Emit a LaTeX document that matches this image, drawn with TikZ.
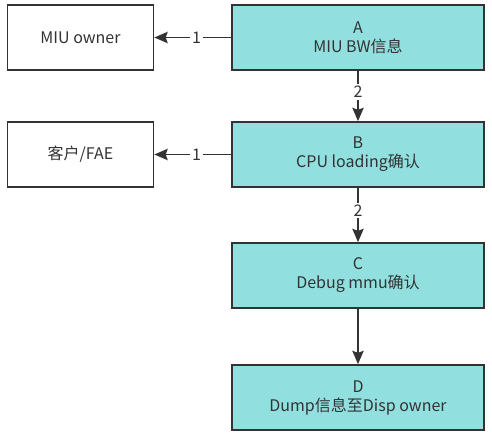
\documentclass[tikz,border=0pt]{standalone}
\usepackage{fontspec}
\setmainfont{Noto Sans CJK SC}
\usetikzlibrary{arrows.meta}

\definecolor{boxfill}{HTML}{92DFDF}
\definecolor{inkgray}{HTML}{333333}

\tikzset{
	stepbox/.style={draw=inkgray, line width=1.3pt, fill=boxfill, text=inkgray,
		minimum width=189pt, minimum height=48.75pt, align=center, inner sep=0pt},
	ownerbox/.style={draw=inkgray, line width=1.3pt, fill=white, text=inkgray,
		minimum width=109.5pt, minimum height=48.75pt, align=center, inner sep=0pt},
	flow/.style={draw=inkgray, line width=1.1pt, -{Stealth[length=10pt,width=8.5pt,inset=1.5pt]}},
	num/.style={fill=white, text=inkgray, inner sep=1.5pt, font=\fontsize{12pt}{14pt}\selectfont}
}

\begin{document}
\begin{tikzpicture}[y=-.75pt, x=.75pt, font=\fontsize{12pt}{14.25pt}\selectfont]
	\useasboundingbox (0,0) rectangle (492,439);

	\node[stepbox]  (A)    at (358,37.5)  {A\\MIU BW信息};
	\node[stepbox]  (B)    at (358,154.5) {B\\CPU loading确认};
	\node[stepbox]  (C)    at (358,275.5) {C\\Debug mmu确认};
	\node[stepbox]  (D)    at (358,397.5) {D\\Dump信息至Disp owner};
	\node[ownerbox] (miu)  at (80.5,37.5)  {MIU owner};
	\node[ownerbox] (fae)  at (80.5,154.5) {客户/FAE};

	\draw[flow] (A) -- node[num, pos=.45] {1} (miu);
	\draw[flow] (B) -- node[num, pos=.45] {1} (fae);
	\draw[flow] (A) -- node[num, pos=.42] {2} (B);
	\draw[flow] (B) -- node[num, pos=.42] {2} (C);
	\draw[flow] (C) -- (D);

\end{tikzpicture}
\end{document}
